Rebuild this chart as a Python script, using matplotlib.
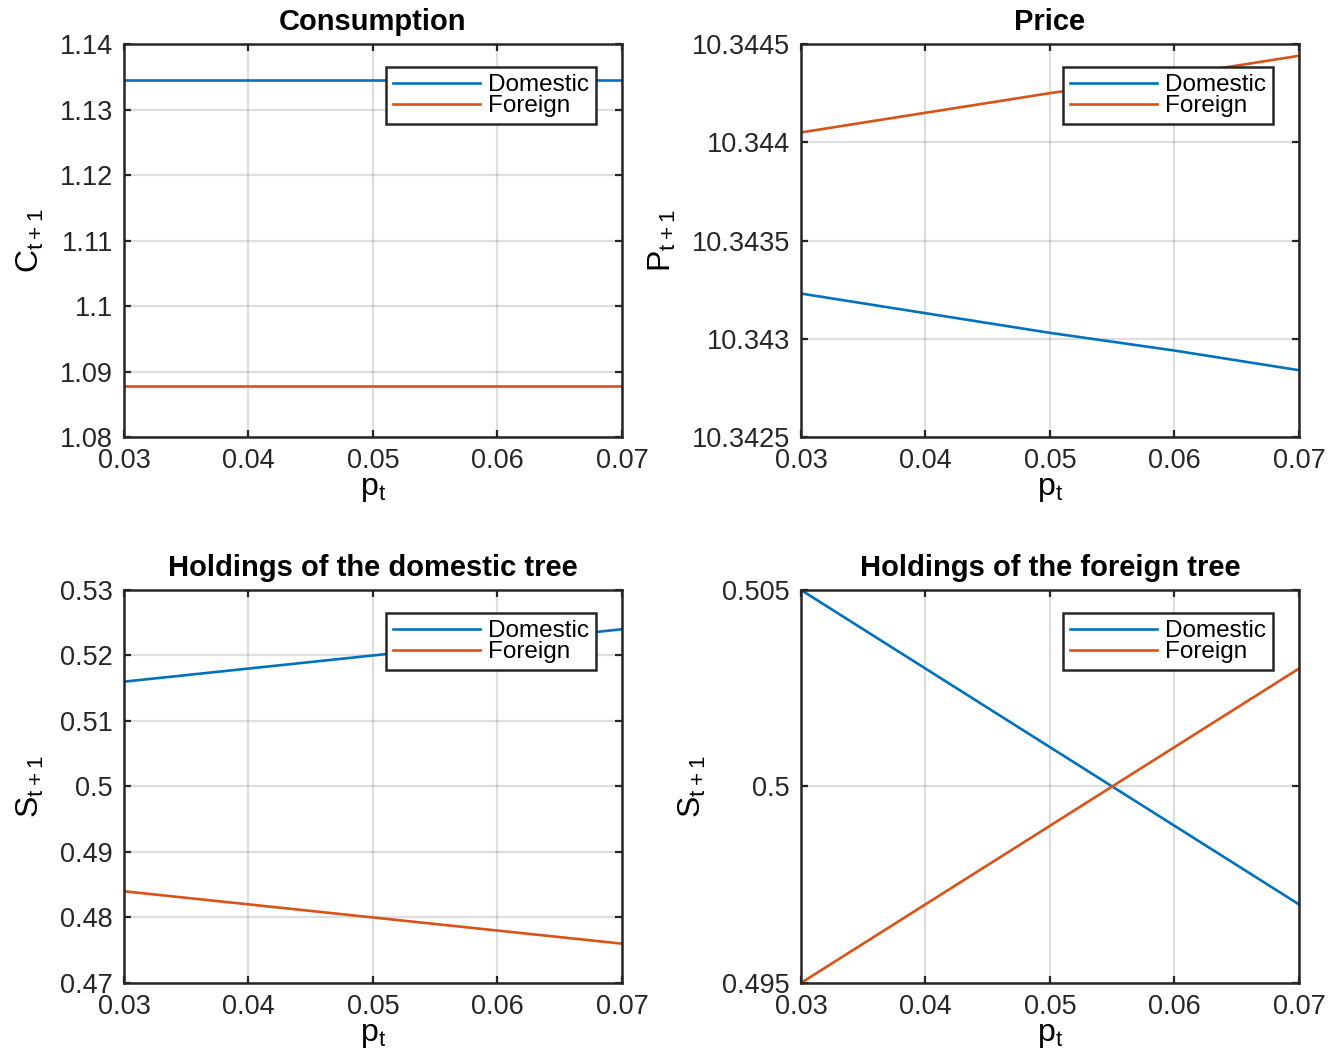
import matplotlib.pyplot as plt
import matplotlib.ticker as mticker

plt.rcParams['font.family'] = ['Liberation Sans', 'DejaVu Sans']
plt.rcParams['mathtext.fontset'] = 'custom'
plt.rcParams['mathtext.rm'] = 'Liberation Sans'

# x grid (p_t)
p_t = [0.03, 0.04, 0.05, 0.06, 0.07]

# Consumption
cons_dom = [1.1345, 1.1345, 1.1345, 1.1345, 1.1345]
cons_for = [1.0878, 1.0878, 1.0878, 1.0878, 1.0878]

# Price
price_dom = [10.34323, 10.34313, 10.34303, 10.34294, 10.34284]
price_for = [10.34405, 10.34415, 10.34425, 10.34434, 10.34444]

# Holdings of the domestic tree
hd_dom = [0.516, 0.518, 0.520, 0.522, 0.524]
hd_for = [0.484, 0.482, 0.480, 0.478, 0.476]

# Holdings of the foreign tree
hf_dom = [0.505, 0.503, 0.501, 0.499, 0.497]
hf_for = [0.495, 0.497, 0.499, 0.501, 0.503]

panels = [
    ('Consumption', 'C_{t+1}', cons_dom, cons_for, (1.08, 1.14),
     [1.08, 1.09, 1.10, 1.11, 1.12, 1.13, 1.14]),
    ('Price', 'P_{t+1}', price_dom, price_for, (10.3425, 10.3445),
     [10.3425, 10.343, 10.3435, 10.344, 10.3445]),
    ('Holdings of the domestic tree', 'S_{t+1}', hd_dom, hd_for, (0.47, 0.53),
     [0.47, 0.48, 0.49, 0.50, 0.51, 0.52, 0.53]),
    ('Holdings of the foreign tree', 'S_{t+1}', hf_dom, hf_for, (0.495, 0.505),
     [0.495, 0.5, 0.505]),
]

blue = '#0072BD'
orange = '#D95319'

fig = plt.figure(figsize=(13.43, 10.63), dpi=100)
lefts = [0.0923, 0.5964]
bottoms = [0.5889, 0.0753]
w, h = 0.3708, 0.3697

for i, (title, ylab, dom, fore, ylim, yt) in enumerate(panels):
    ax = fig.add_axes([lefts[i % 2], bottoms[i // 2], w, h])
    ax.plot(p_t, dom, color=blue, lw=1.9, label='Domestic')
    ax.plot(p_t, fore, color=orange, lw=1.9, label='Foreign')
    ax.set_xlim(0.03, 0.07)
    ax.set_ylim(*ylim)
    ax.set_xticks([0.03, 0.04, 0.05, 0.06, 0.07])
    ax.set_yticks(yt)
    ax.xaxis.set_major_formatter(mticker.FuncFormatter(lambda v, p: '%g' % round(v, 6)))
    ax.yaxis.set_major_formatter(mticker.FuncFormatter(lambda v, p: '%g' % round(v, 6)))
    ax.grid(True, color='#000000', alpha=0.13, lw=1.6)
    ax.tick_params(direction='in', top=True, right=True, labelsize=19.5,
                   length=5, width=1.6, colors='#262626')
    ax.tick_params(axis='x', pad=8)
    ax.tick_params(axis='y', pad=8)
    for s in ax.spines.values():
        s.set_linewidth(1.8)
        s.set_color('#262626')
    ax.set_title(title, fontsize=21, fontweight='bold', pad=10)
    ax.set_xlabel(r'$\mathregular{p_t}$', fontsize=23, labelpad=0)
    ax.set_ylabel(r'$\mathregular{' + ylab + '}$', fontsize=23, labelpad=10)
    leg = ax.legend(loc='upper right', bbox_to_anchor=(0.948, 0.9415), borderaxespad=0,
                    fontsize=17.5, fancybox=False, framealpha=1, edgecolor='#262626',
                    handlelength=3.6, handletextpad=0.3, labelspacing=-0.05,
                    borderpad=0.3)
    leg.get_frame().set_linewidth(1.8)

fig.savefig('out.png', dpi=100)
